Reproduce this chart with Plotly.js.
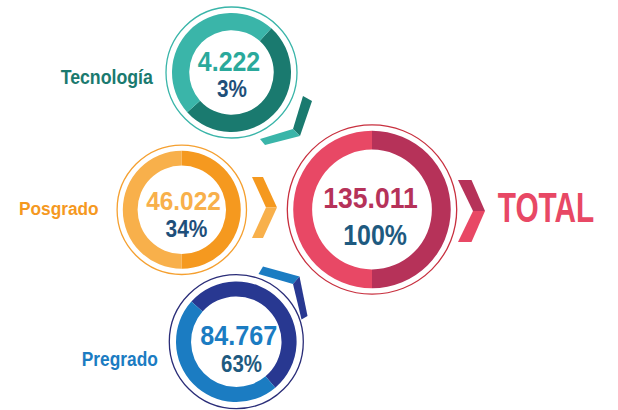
<!DOCTYPE html>
<html>
<head>
<meta charset="utf-8">
<script src="https://cdn.plot.ly/plotly-3.0.1.min.js"></script>
<style>html,body{margin:0;padding:0;background:#fff;}#chart{width:618px;height:410px;}</style>
</head>
<body>
<div id="chart"></div>
<script>
// ---- data ----
var categories = ["Tecnología", "Posgrado", "Pregrado", "TOTAL"];
var counts = [4222, 46022, 84767, 135011];
var percents = [3, 34, 63, 100];
// decorative two-tone ring split (dark share, light share)
var ringDark = [51.7, 50, 52.2, 50];
var ringLight = [48.3, 50, 47.8, 50];
var ringStart = [42, 0, 311.8, 0];

// ---- styling ----
var W = 618, H = 410;
var FONT = "Liberation Sans, Arial, sans-serif";
var geo = [
  {cx: 231.5, cy: 72.5, r: 59.5, hole: 0.71, ring: 65.5},
  {cx: 181.8, cy: 209.8, r: 59, hole: 0.75, ring: 64.7},
  {cx: 236.3, cy: 341.7, r: 60.3, hole: 0.75, ring: 67},
  {cx: 372, cy: 209.5, r: 78.8, hole: 0.76, ring: 84.7}
];
var darkCol = ["#1a7a6f", "#f5991f", "#283891", "#b63259"];
var lightCol = ["#3ab5a9", "#f8b04b", "#1b7cc2", "#e84865"];
var ringCol = ["#3ab5a9", "#f5a030", "#2a2d78", "#c8303f"];
var numCol = ["#2aa99b", "#f8b04b", "#1b7cc2", "#b63259"];
var pctCol = ["#1e4f7a", "#1e4f7a", "#1e5a80", "#1e5a80"];
var labCol = ["#1a7a6f", "#f5991f", "#1b7cc2", "#e84865"];

function fmt(n) { return String(n).replace(/\B(?=(\d{3})+(?!\d))/g, "."); }

var traces = [];
var shapes = [];
var annotations = [];
var squeeze = [];
for (var i = 0; i < categories.length; i++) {
  var g = geo[i];
  traces.push({
    type: "pie",
    values: [ringDark[i], ringLight[i]],
    labels: [categories[i] + " a", categories[i] + " b"],
    marker: {colors: [darkCol[i], lightCol[i]], line: {width: 0}},
    hole: g.hole,
    sort: false,
    direction: "clockwise",
    rotation: ringStart[i],
    textinfo: "none",
    hoverinfo: "skip",
    showlegend: false,
    domain: {x: [(g.cx - g.r) / W, (g.cx + g.r) / W], y: [1 - (g.cy + g.r) / H, 1 - (g.cy - g.r) / H]}
  });
  shapes.push({type: "circle", xref: "x", yref: "y", x0: g.cx - g.ring, x1: g.cx + g.ring,
    y0: g.cy - g.ring, y1: g.cy + g.ring, line: {color: ringCol[i], width: 1.3}});
}

// [x, y, size, horizontal squeeze]
var numPos = [[229, 61.5, 28, 0.89], [183.5, 200.5, 26.5, 0.92], [238.5, 335, 28, 0.9], [370, 197.5, 29.5, 0.9]];
var pctPos = [[232, 89, 23.5, 0.88], [186, 228.5, 23.5, 0.89], [241.5, 363.5, 23.5, 0.87], [375, 234.5, 29, 0.86]];
for (var j = 0; j < categories.length; j++) {
  annotations.push({x: numPos[j][0], y: numPos[j][1], xref: "x", yref: "y", showarrow: false,
    text: fmt(counts[j]), xanchor: "center", yanchor: "middle",
    font: {family: FONT, size: numPos[j][2], color: numCol[j], weight: "bold"}});
  squeeze.push(numPos[j][3]);
  annotations.push({x: pctPos[j][0], y: pctPos[j][1], xref: "x", yref: "y", showarrow: false,
    text: percents[j] + "%", xanchor: "center", yanchor: "middle",
    font: {family: FONT, size: pctPos[j][2], color: pctCol[j], weight: "bold"}});
  squeeze.push(pctPos[j][3]);
}
var labPos = [[107, 77, 19.5, 0.91], [59, 208.5, 19, 0.91], [120, 358.5, 19.5, 0.89], [545.5, 207, 42, 0.71]];
for (var k = 0; k < categories.length; k++) {
  annotations.push({x: labPos[k][0], y: labPos[k][1], xref: "x", yref: "y", showarrow: false,
    text: categories[k], xanchor: "center", yanchor: "middle",
    font: {family: FONT, size: labPos[k][2], color: labCol[k], weight: "bold"}});
  squeeze.push(labPos[k][3]);
}

// chevrons (decorative)
function poly(pts, col) {
  var d = "M" + pts.map(function (p) { return p[0] + "," + p[1]; }).join(" L") + " Z";
  return {type: "path", xref: "x", yref: "y", path: d, fillcolor: col, line: {width: 0}};
}
// teal (points down-right)
shapes.push(poly([[303, 96], [312, 101], [300, 136], [293, 129]], darkCol[0]));
shapes.push(poly([[293, 129], [300, 136], [265, 145], [260, 139]], lightCol[0]));
// orange (points right)
shapes.push(poly([[252, 177], [263, 177], [277, 207.5], [266, 207.5]], darkCol[1]));
shapes.push(poly([[266, 207.5], [277, 207.5], [263, 238], [252, 238]], lightCol[1]));
// blue (points up-right)
shapes.push(poly([[263, 266.5], [299.5, 276.5], [293, 284], [258.5, 274]], lightCol[2]));
shapes.push(poly([[293, 284], [299.5, 276.5], [307.5, 316], [301.5, 319.5]], darkCol[2]));
// red (points right)
shapes.push(poly([[458, 180], [471.5, 180], [485, 211], [473, 211]], darkCol[3]));
shapes.push(poly([[473, 211], [485, 211], [471.5, 242], [458, 242]], lightCol[3]));

var layout = {
  width: W, height: H,
  margin: {l: 0, r: 0, t: 0, b: 0, pad: 0},
  paper_bgcolor: "#ffffff", plot_bgcolor: "rgba(0,0,0,0)",
  xaxis: {range: [0, W], visible: false, fixedrange: true},
  yaxis: {range: [H, 0], visible: false, fixedrange: true},
  showlegend: false,
  shapes: shapes,
  annotations: annotations
};
Plotly.newPlot("chart", traces, layout, {staticPlot: true, displayModeBar: false}).then(function () {
  // condensed look: squeeze each text horizontally about its own centre
  var texts = document.querySelectorAll("#chart .annotation-text");
  for (var t = 0; t < texts.length; t++) {
    var s = squeeze[t] || 1;
    texts[t].style.transformBox = "fill-box";
    texts[t].style.transformOrigin = "center";
    texts[t].style.transform = "scaleX(" + s + ")";
  }
});
</script>
</body>
</html>
